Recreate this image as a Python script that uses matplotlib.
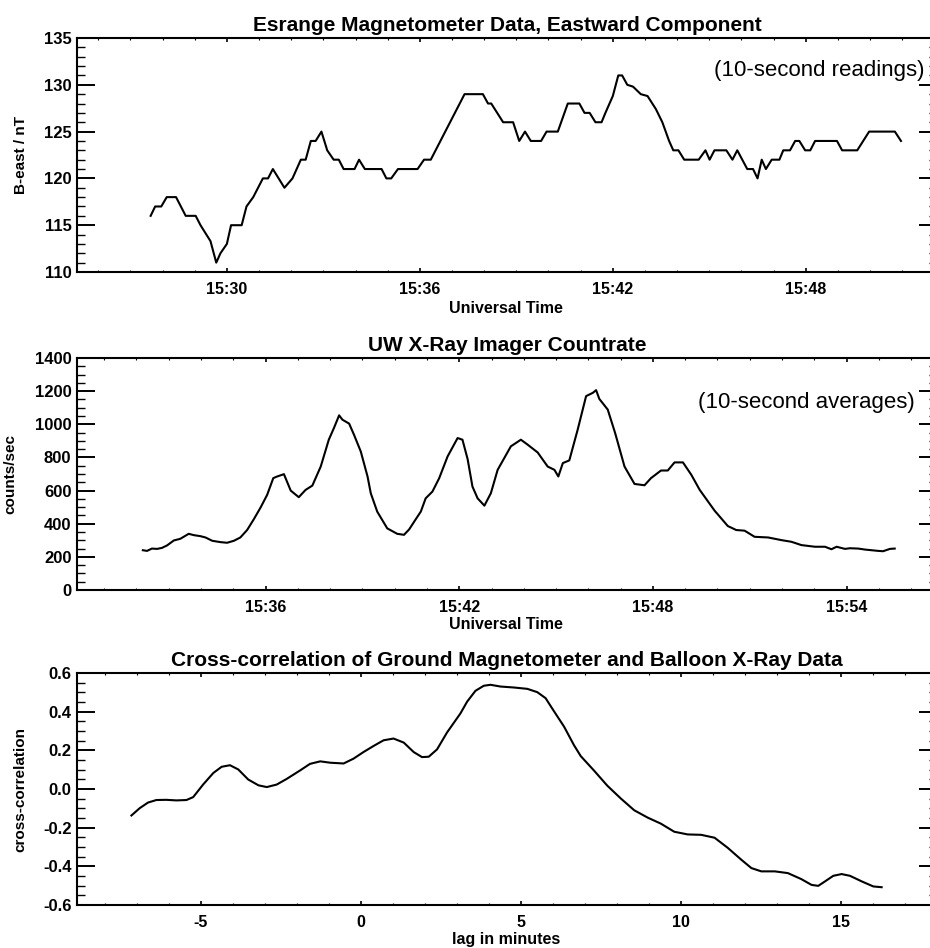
import matplotlib
matplotlib.use("Agg")
import matplotlib.pyplot as plt
from matplotlib.ticker import MultipleLocator, FuncFormatter

# Esrange magnetometer, eastward component (minutes after 15:00, nT)
mag_t = [27.63, 27.77, 27.96, 28.13, 28.42, 28.72, 29.03, 29.18, 29.49, 29.67,
         29.80, 30.00, 30.13, 30.46, 30.61, 30.82, 31.12, 31.28, 31.43, 31.79,
         32.04, 32.30, 32.45, 32.61, 32.76, 32.94, 33.12, 33.32, 33.48, 33.63,
         33.97, 34.11, 34.29, 34.81, 34.96, 35.11, 35.32, 35.93, 36.13, 36.34,
         37.39, 37.96, 38.12, 38.22, 38.59, 38.90, 39.09, 39.27, 39.45, 39.77,
         39.94, 40.29, 40.60, 40.96, 41.12, 41.28, 41.46, 41.65, 41.77, 42.00,
         42.17, 42.29, 42.45, 42.63, 42.87, 43.08, 43.34, 43.54, 43.75, 43.88,
         44.04, 44.22, 44.67, 44.88, 45.01, 45.16, 45.53, 45.72, 45.87, 46.18,
         46.36, 46.50, 46.63, 46.76, 46.94, 47.18, 47.30, 47.51, 47.67, 47.80,
         47.98, 48.14, 48.29, 48.97, 49.13, 49.60, 49.97, 50.77, 50.96]
mag_b = [116, 117, 117, 118, 118, 116, 116, 115, 113.3, 111,
         112, 113, 115, 115, 117, 118, 120, 120, 121, 119,
         120, 122, 122, 124, 124, 125, 123, 122, 122, 121,
         121, 122, 121, 121, 120, 120, 121, 121, 122, 122,
         129, 129, 128, 128, 126, 126, 124, 125, 124, 124,
         125, 125, 128, 128, 127, 127, 126, 126, 127, 128.8,
         131, 131, 130, 129.8, 129, 128.8, 127.4, 126, 124, 123,
         123, 122, 122, 123, 122, 123, 123, 122, 123, 121,
         121, 120, 122, 121, 122, 122, 123, 123, 124, 124,
         123, 123, 124, 124, 123, 123, 125, 125, 124]

# UW X-ray imager count rate (minutes after 15:00, counts/sec)
xr_t = [32.20, 32.33, 32.48, 32.64, 32.79, 32.95, 33.16, 33.36, 33.62, 33.78,
        33.98, 34.14, 34.35, 34.60, 34.81, 35.02, 35.22, 35.43, 35.64, 35.85,
        36.05, 36.24, 36.36, 36.57, 36.78, 37.03, 37.24, 37.45, 37.71, 37.96,
        38.12, 38.28, 38.38, 38.59, 38.74, 38.95, 39.16, 39.26, 39.46, 39.77,
        40.08, 40.29, 40.45, 40.65, 40.81, 40.96, 41.17, 41.38, 41.64, 41.95,
        42.10, 42.26, 42.41, 42.57, 42.78, 42.98, 43.19, 43.60, 43.91, 44.12,
        44.43, 44.74, 44.95, 45.07, 45.21, 45.41, 45.67, 45.93, 46.14, 46.24,
        46.34, 46.60, 46.83, 47.12, 47.43, 47.74, 47.94, 48.25, 48.46, 48.67,
        48.93, 49.19, 49.45, 49.91, 50.32, 50.58, 50.84, 51.15, 51.57, 51.98,
        52.29, 52.60, 53.02, 53.33, 53.53, 53.69, 53.95, 54.10, 54.36, 54.57,
        54.98, 55.13, 55.34, 55.49]
xr_c = [240, 236, 250, 248, 254, 269, 299, 309, 339, 331,
        325, 317, 297, 289, 285, 297, 317, 362, 428, 499,
        574, 675, 685, 699, 600, 560, 604, 630, 745, 907,
        978, 1054, 1028, 1004, 937, 836, 685, 584, 473, 372,
        339, 333, 366, 426, 473, 553, 594, 675, 806, 917,
        907, 790, 624, 553, 509, 584, 725, 867, 907, 877,
        830, 745, 725, 685, 766, 782, 968, 1170, 1190, 1206,
        1153, 1089, 947, 745, 640, 632, 675, 721, 721, 770,
        770, 695, 604, 479, 386, 362, 358, 321, 317, 301,
        291, 271, 261, 261, 246, 261, 248, 252, 250, 244,
        236, 234, 248, 250]

# cross-correlation vs lag (minutes)
lag = [-7.17, -6.91, -6.65, -6.39, -6.08, -5.76, -5.45, -5.24, -4.93, -4.61,
       -4.35, -4.09, -3.83, -3.52, -3.20, -2.94, -2.63, -2.32, -1.90, -1.59,
       -1.27, -0.96, -0.54, -0.23, 0.08, 0.40, 0.71, 1.02, 1.34, 1.65,
       1.91, 2.12, 2.38, 2.69, 3.11, 3.32, 3.58, 3.84, 4.05, 4.36,
       4.78, 5.20, 5.51, 5.77, 6.03, 6.35, 6.66, 6.87, 7.28, 7.70,
       8.12, 8.54, 8.96, 9.37, 9.79, 10.21, 10.63, 11.05, 11.46, 11.88,
       12.20, 12.51, 12.93, 13.34, 13.76, 14.08, 14.29, 14.50, 14.76, 15.02,
       15.28, 15.65, 16.01, 16.27]
cc = [-0.137, -0.099, -0.070, -0.057, -0.056, -0.059, -0.057, -0.042, 0.023, 0.083,
      0.115, 0.123, 0.101, 0.049, 0.019, 0.010, 0.023, 0.052, 0.096, 0.130,
      0.143, 0.136, 0.132, 0.157, 0.191, 0.223, 0.252, 0.261, 0.240, 0.191,
      0.165, 0.167, 0.205, 0.292, 0.391, 0.452, 0.508, 0.534, 0.539, 0.530,
      0.525, 0.518, 0.501, 0.470, 0.403, 0.322, 0.226, 0.170, 0.096, 0.017,
      -0.049, -0.110, -0.148, -0.179, -0.221, -0.235, -0.237, -0.252, -0.304, -0.365,
      -0.409, -0.426, -0.426, -0.435, -0.466, -0.496, -0.501, -0.478, -0.449, -0.440,
      -0.449, -0.478, -0.504, -0.508]

plt.rcParams["font.family"] = ["Liberation Sans", "DejaVu Sans"]
plt.rcParams["font.weight"] = "bold"
plt.rcParams["axes.titleweight"] = "bold"
plt.rcParams["axes.labelweight"] = "bold"

W, H = 930, 948
fig = plt.figure(figsize=(W / 100, H / 100), dpi=100)


def make_axes(top, bottom, left=77, right=937):
    return fig.add_axes([left / W, 1 - bottom / H, (right - left) / W, (bottom - top) / H])


def style(ax, ymajor, yminor, xmajor, xminor):
    ax.spines["right"].set_visible(False)
    for s in ["left", "bottom", "top"]:
        ax.spines[s].set_linewidth(1.5)
    ax.yaxis.set_major_locator(MultipleLocator(ymajor))
    ax.yaxis.set_minor_locator(MultipleLocator(yminor))
    ax.xaxis.set_major_locator(MultipleLocator(xmajor))
    ax.xaxis.set_minor_locator(MultipleLocator(xminor))
    ax.tick_params(axis="y", which="major", direction="in", length=13, width=1.4,
                   left=True, right=True, labelsize=12, pad=4)
    ax.tick_params(axis="y", which="minor", direction="in", length=6, width=1.0,
                   left=True, right=True)
    ax.tick_params(axis="x", which="major", direction="in", length=3, width=1.2,
                   top=True, bottom=True, labelsize=11.5, pad=7)
    ax.tick_params(axis="x", which="minor", direction="in", length=1.5, width=0.8,
                   top=True, bottom=True)


time_fmt = FuncFormatter(lambda v, pos: "15:%02d" % round(v))

# panel 1
ax1 = make_axes(38, 272)
ax1.plot(mag_t, mag_b, color="black", lw=1.5)
ax1.set_xlim(25.34, 52.08)
ax1.set_ylim(110, 135)
style(ax1, 5, 1, 6, 1)
ax1.xaxis.set_major_formatter(time_fmt)
ax1.set_title("Esrange Magnetometer Data, Eastward Component", fontsize=15, pad=5)
ax1.set_xlabel("Universal Time", fontsize=11.5)
ax1.xaxis.set_label_coords(0.499, -0.124)
ax1.set_ylabel("B-east / nT", fontsize=11)
ax1.yaxis.set_label_coords(-0.057, 0.5)
ax1.text(0.986, 0.863, "(10-second readings)", transform=ax1.transAxes,
         ha="right", va="center", fontsize=16, fontweight="normal")

# panel 2
ax2 = make_axes(358, 590)
ax2.plot(xr_t, xr_c, color="black", lw=1.5)
ax2.set_xlim(30.16, 56.8)
ax2.set_ylim(0, 1400)
style(ax2, 200, 50, 6, 1)
ax2.xaxis.set_major_formatter(time_fmt)
ax2.set_title("UW X-Ray Imager Countrate", fontsize=15, pad=5)
ax2.set_xlabel("Universal Time", fontsize=11.5)
ax2.xaxis.set_label_coords(0.499, -0.116)
ax2.set_ylabel("counts/sec", fontsize=11)
ax2.yaxis.set_label_coords(-0.069, 0.5)
ax2.text(0.974, 0.81, "(10-second averages)", transform=ax2.transAxes,
         ha="right", va="center", fontsize=16, fontweight="normal")

# panel 3
ax3 = make_axes(673, 905)
ax3.plot(lag, cc, color="black", lw=1.5)
ax3.set_xlim(-8.87, 18.0)
ax3.set_ylim(-0.6, 0.6)
style(ax3, 0.2, 0.05, 5, 1)
ax3.yaxis.set_major_formatter(FuncFormatter(lambda v, pos: "%.1f" % v))
ax3.xaxis.set_major_formatter(FuncFormatter(lambda v, pos: "%d" % round(v)))
ax3.set_title("Cross-correlation of Ground Magnetometer and Balloon X-Ray Data", fontsize=15, pad=5)
ax3.set_xlabel("lag in minutes", fontsize=11.5)
ax3.xaxis.set_label_coords(0.499, -0.116)
ax3.set_ylabel("cross-correlation", fontsize=11)
ax3.yaxis.set_label_coords(-0.058, 0.5)

fig.savefig("out.png", dpi=100)
